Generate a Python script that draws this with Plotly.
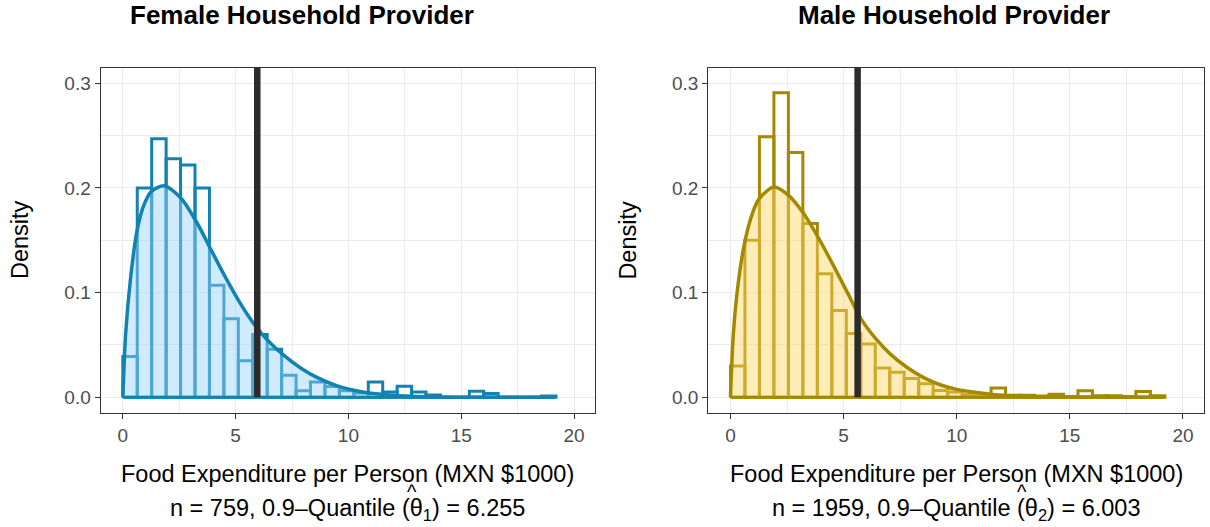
import plotly.graph_objects as go

# ---------------- data ----------------
bin_start = 0.0
bin_width = 0.64

female_density = [0.039, 0.200, 0.247, 0.228, 0.222, 0.200, 0.107, 0.075, 0.035, 0.060,
                  0.046, 0.021, 0.0063, 0.0147, 0.0104, 0.0063, 0.0040, 0.0147, 0.0050, 0.0105,
                  0.0050, 0.0022, 0.0, 0.0, 0.0058, 0.0036, 0.0, 0.0, 0.0, 0.0012]
male_density = [0.030, 0.150, 0.249, 0.291, 0.234, 0.166, 0.118, 0.083, 0.061, 0.051,
                0.028, 0.024, 0.018, 0.013, 0.0065, 0.005, 0.003, 0.002, 0.009, 0.002,
                0.002, 0.0012, 0.0028, 0.0008, 0.0063, 0.0016, 0.0016, 0.0008, 0.0055, 0.0016]

female_curve_x = [0, 0.13, 0.35, 0.62, 0.94, 1.28, 1.84, 2.59, 3.28, 3.91, 4.54, 5.2, 5.85,
                  6.48, 7.14, 7.88, 8.6, 9.5, 10.5, 11.9, 13.5, 15.0, 19.13]
female_curve_y = [0, 0.062, 0.115, 0.158, 0.184, 0.197, 0.202, 0.190, 0.167, 0.141, 0.115,
                  0.090, 0.069, 0.053, 0.040, 0.028, 0.019, 0.011, 0.0055, 0.002, 0.0005,
                  0.0001, 0]
male_curve_x = [0, 0.12, 0.32, 0.63, 0.99, 1.28, 1.92, 2.57, 3.22, 3.87, 4.5, 5.17, 5.8,
                6.46, 7.08, 7.78, 8.52, 9.26, 10.0, 10.74, 11.47, 12.95, 14.5, 19.15]
male_curve_y = [0, 0.058, 0.105, 0.148, 0.177, 0.190, 0.201, 0.193, 0.176, 0.153, 0.128,
                0.100, 0.074, 0.055, 0.041, 0.029, 0.019, 0.012, 0.0076, 0.005, 0.003,
                0.001, 0.0003, 0]

female_vline = 5.96
male_vline = 5.62

titles = ["Female Household Provider", "Male Household Provider"]
x_title = "Food Expenditure per Person (MXN $1000)"
n_values = [759, 1959]
quantiles = ["6.255", "6.003"]
x_ticks = [0, 5, 10, 15, 20]
y_ticks = [0.0, 0.1, 0.2, 0.3]
y_ticktext = ["0.0", "0.1", "0.2", "0.3"]

# ---------------- styling ----------------
FONT = "Liberation Sans"
W, H = 1210, 527
dark = ["#1282B2", "#A48900"]
fills = ["rgba(150,210,250,0.45)", "rgba(255,215,100,0.45)"]
x_dom = [[100.7 / W, 595 / W], [708.3 / W, 1204 / W]]
y_dom = [(H - 413) / H, (H - 67.7) / H]
x_range = [-0.98, 20.93]
y_range = [-0.015, 0.3149]


def outline(heights):
    xs, ys = [], []
    for i, h in enumerate(heights):
        left = bin_start + i * bin_width
        right = left + bin_width
        xs += [left, left, right, right, left, None]
        ys += [0, h, h, 0, 0, None]
    return xs, ys


fig = go.Figure()
panels = [
    (female_density, female_curve_x, female_curve_y, female_vline),
    (male_density, male_curve_x, male_curve_y, male_vline),
]
for k, (dens, cx, cy, vl) in enumerate(panels):
    xa = "x" if k == 0 else "x2"
    ya = "y" if k == 0 else "y2"
    ox, oy = outline(dens)
    fig.add_trace(go.Scatter(x=ox, y=oy, mode="lines", xaxis=xa, yaxis=ya,
                             line=dict(color=dark[k], width=3), hoverinfo="skip"))
    fig.add_trace(go.Scatter(x=cx, y=cy, mode="lines", xaxis=xa, yaxis=ya, fill="tozeroy",
                             fillcolor=fills[k], line=dict(width=0, shape="spline", smoothing=0.8),
                             hoverinfo="skip"))
    fig.add_trace(go.Scatter(x=cx, y=cy, mode="lines", xaxis=xa, yaxis=ya,
                             line=dict(color=dark[k], width=3.5, shape="spline", smoothing=0.8)))
    fig.add_trace(go.Scatter(x=[cx[0], cx[-1]], y=[0, 0], mode="lines", xaxis=xa, yaxis=ya,
                             line=dict(color=dark[k], width=3), hoverinfo="skip"))
    fig.add_shape(type="line", xref=xa, yref=ya, x0=vl, x1=vl, y0=0, y1=y_range[1],
                  line=dict(color="#2B2B2B", width=6.5))

axis_common = dict(
    showline=True, mirror=True, linecolor="#333333", linewidth=1.3,
    ticks="outside", ticklen=5, tickwidth=1.2, tickcolor="#333333",
    tickfont=dict(family=FONT, size=19, color="#4D4D4D"),
    showgrid=True, gridcolor="#EBEBEB", gridwidth=1.4, zeroline=False,
)
for k in range(2):
    sfx = "" if k == 0 else "2"
    fig.update_layout(**{
        "xaxis" + sfx: dict(axis_common, domain=x_dom[k], range=x_range, tickvals=x_ticks,
                            anchor="y" + sfx,
                            minor=dict(dtick=2.5, tick0=0, showgrid=True, gridcolor="#EBEBEB",
                                       gridwidth=0.8, ticks="")),
        "yaxis" + sfx: dict(axis_common, domain=y_dom, range=y_range, tickvals=y_ticks,
                            ticktext=y_ticktext, anchor="x" + sfx,
                            minor=dict(tickvals=[0.05, 0.15, 0.25], showgrid=True,
                                       gridcolor="#EBEBEB", gridwidth=0.8, ticks="")),
    })

ann = []
title_cx = [302, 954]
hat_cx = [412, 1022]
for k in range(2):
    pc = (x_dom[k][0] + x_dom[k][1]) / 2
    ann.append(dict(text="<b>%s</b>" % titles[k], x=title_cx[k] / W, y=1 - 15 / H,
                    xref="paper", yref="paper", showarrow=False, xanchor="center",
                    yanchor="middle", font=dict(family=FONT, size=26, color="black")))
    ann.append(dict(text=x_title, x=pc, y=1 - 474 / H, xref="paper", yref="paper",
                    showarrow=False, xanchor="center", yanchor="middle",
                    font=dict(family=FONT, size=23.5, color="black")))
    ann.append(dict(text="n = %d, 0.9\u2013Quantile (\u03b8<sub>%d</sub>) = %s"
                    % (n_values[k], k + 1, quantiles[k]),
                    x=pc, y=1 - 509 / H, xref="paper", yref="paper",
                    showarrow=False, xanchor="center", yanchor="middle",
                    font=dict(family=FONT, size=23.5, color="black")))
    ann.append(dict(text="^", x=hat_cx[k] / W, y=1 - 492 / H, xref="paper", yref="paper",
                    showarrow=False, xanchor="center", yanchor="middle",
                    font=dict(family=FONT, size=20, color="black")))
    ann.append(dict(text="Density", x=(20 + 607.6 * k) / W, y=1 - 240 / H, xref="paper",
                    yref="paper", showarrow=False, textangle=-90, xanchor="center",
                    yanchor="middle", font=dict(family=FONT, size=23.5, color="black")))

fig.update_layout(width=W, height=H, margin=dict(l=0, r=0, t=0, b=0),
                  paper_bgcolor="white", plot_bgcolor="white", showlegend=False,
                  annotations=ann, font=dict(family=FONT))
fig.write_html("out.html")
